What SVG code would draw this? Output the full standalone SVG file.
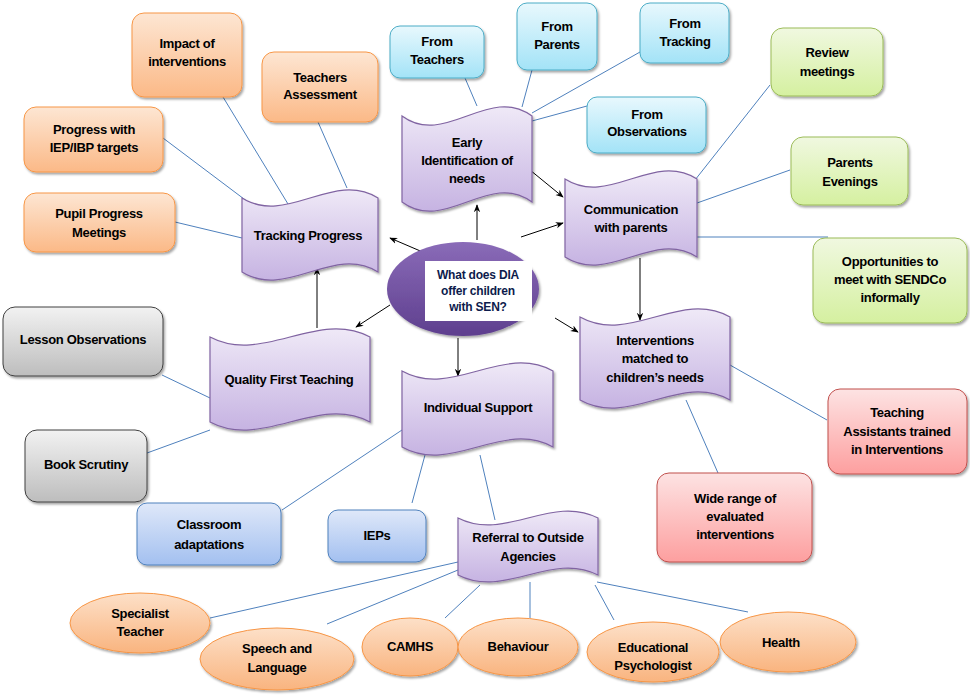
<svg xmlns="http://www.w3.org/2000/svg" width="970" height="695" viewBox="0 0 970 695">
<defs>
<linearGradient id="gOr" x1="0" y1="0" x2="0" y2="1"><stop offset="0" stop-color="#fde6d3"/><stop offset="1" stop-color="#fbb987"/></linearGradient>
<linearGradient id="gCy" x1="0" y1="0" x2="0" y2="1"><stop offset="0" stop-color="#e8f8fd"/><stop offset="1" stop-color="#a3e3f7"/></linearGradient>
<linearGradient id="gGr" x1="0" y1="0" x2="0" y2="1"><stop offset="0" stop-color="#f0f8e0"/><stop offset="1" stop-color="#d5f0a0"/></linearGradient>
<linearGradient id="gRd" x1="0" y1="0" x2="0" y2="1"><stop offset="0" stop-color="#fde3e3"/><stop offset="1" stop-color="#fd9f9f"/></linearGradient>
<linearGradient id="gGy" x1="0" y1="0" x2="0" y2="1"><stop offset="0" stop-color="#f2f2f2"/><stop offset="1" stop-color="#bdbdbd"/></linearGradient>
<linearGradient id="gBl" x1="0" y1="0" x2="0" y2="1"><stop offset="0" stop-color="#dfe8f9"/><stop offset="1" stop-color="#a3c0f0"/></linearGradient>
<linearGradient id="gPu" x1="0" y1="0" x2="0" y2="1"><stop offset="0" stop-color="#efe9f7"/><stop offset="1" stop-color="#c6b3e2"/></linearGradient>
<linearGradient id="gEl" x1="0" y1="0" x2="0" y2="1"><stop offset="0" stop-color="#fde0c8"/><stop offset="1" stop-color="#f9b47f"/></linearGradient>
<linearGradient id="gCe" x1="0" y1="0" x2="0" y2="1"><stop offset="0" stop-color="#8a6bb8"/><stop offset="1" stop-color="#5e3f8e"/></linearGradient>
<filter id="sh" x="-10%" y="-10%" width="125%" height="130%"><feDropShadow dx="1.5" dy="2" stdDeviation="1.2" flood-color="#000" flood-opacity="0.35"/></filter>
<marker id="ar" viewBox="0 0 10 10" refX="9" refY="5" markerWidth="8" markerHeight="8" orient="auto" markerUnits="userSpaceOnUse"><path d="M0,1 L10,5 L0,9 L3,5 Z" fill="#000"/></marker>
</defs>
<style>
text{font-family:"Liberation Sans",Arial,sans-serif;font-weight:bold;font-size:13px;fill:#000;text-anchor:middle;letter-spacing:-0.3px}
.or{fill:url(#gOr);stroke:#f79646;stroke-width:1;filter:url(#sh)}
.cy{fill:url(#gCy);stroke:#4bacc6;stroke-width:1;filter:url(#sh)}
.gr{fill:url(#gGr);stroke:#9bbb59;stroke-width:1;filter:url(#sh)}
.rd{fill:url(#gRd);stroke:#c0504d;stroke-width:1;filter:url(#sh)}
.gy{fill:url(#gGy);stroke:#404040;stroke-width:1;filter:url(#sh)}
.bl{fill:url(#gBl);stroke:#4f81bd;stroke-width:1;filter:url(#sh)}
.pu{fill:url(#gPu);stroke:#8064a2;stroke-width:1.2;filter:url(#sh)}
.el{fill:url(#gEl);stroke:#f79646;stroke-width:1;filter:url(#sh)}
.ln{stroke:#4f81bd;stroke-width:1;fill:none}
.ak{stroke:#000;stroke-width:1;fill:none;marker-end:url(#ar)}
.ct{fill:#0d1b4c;font-size:12px;letter-spacing:-0.2px}
</style>
<rect width="970" height="695" fill="#fff"/>

<g id="connectors">
<line class="ln" x1="223" y1="97" x2="288" y2="204"/>
<line class="ln" x1="318" y1="122" x2="347" y2="188"/>
<line class="ln" x1="163" y1="138" x2="248" y2="202"/>
<line class="ln" x1="175" y1="222" x2="242" y2="238"/>
<line class="ln" x1="465" y1="78" x2="477" y2="106"/>
<line class="ln" x1="532" y1="70" x2="522" y2="107"/>
<line class="ln" x1="640" y1="52" x2="532" y2="113"/>
<line class="ln" x1="587" y1="106" x2="532" y2="121"/>
<line class="ln" x1="770" y1="85" x2="695" y2="180"/>
<line class="ln" x1="790" y1="170" x2="697" y2="203"/>
<line class="ln" x1="697" y1="237" x2="828" y2="237"/>
<line class="ln" x1="730" y1="365" x2="827" y2="420"/>
<line class="ln" x1="686" y1="400" x2="718" y2="473"/>
<line class="ln" x1="162" y1="375" x2="210" y2="398"/>
<line class="ln" x1="147" y1="453" x2="210" y2="430"/>
<line class="ln" x1="282" y1="510" x2="402" y2="430"/>
<line class="ln" x1="412" y1="503" x2="425" y2="455"/>
<line class="ln" x1="480" y1="455" x2="495" y2="520"/>
<line class="ln" x1="210" y1="618" x2="458" y2="562"/>
<line class="ln" x1="327" y1="624" x2="458" y2="570"/>
<line class="ln" x1="445" y1="618" x2="480" y2="585"/>
<line class="ln" x1="530" y1="618" x2="530" y2="582"/>
<line class="ln" x1="614" y1="620" x2="595" y2="585"/>
<line class="ln" x1="597" y1="582" x2="748" y2="612"/>
<line class="ak" x1="477" y1="240" x2="477" y2="205"/>
<line class="ak" x1="425" y1="253" x2="390" y2="238"/>
<line class="ak" x1="521" y1="237" x2="563" y2="223"/>
<line class="ak" x1="530" y1="170" x2="563" y2="197"/>
<line class="ak" x1="640" y1="258" x2="640" y2="320"/>
<line class="ak" x1="555" y1="318" x2="578" y2="332"/>
<line class="ak" x1="458" y1="338" x2="458" y2="376"/>
<line class="ak" x1="390" y1="305" x2="356" y2="327"/>
<line class="ak" x1="317" y1="328" x2="317" y2="268"/>
</g>

<g id="centre">
<ellipse cx="463" cy="289" rx="76" ry="47" fill="url(#gCe)" filter="url(#sh)"/>
<rect x="425" y="261" width="107" height="60" fill="#fff"/>
<text class="ct" x="478" y="279">What does DIA</text>
<text class="ct" x="478" y="295">offer children</text>
<text class="ct" x="478" y="311">with SEN?</text>
</g>

<g id="tracking-progress">
<path class="pu" d="M242,198 C287,226 333,170 378,198 L378,272 C333,244 287,300 242,272 Z"/>
<text x="308" y="240">Tracking Progress</text>
</g>
<g id="early-identification">
<path class="pu" d="M402,116 C445,148 489,84 532,116 L532,202 C489,170 445,234 402,202 Z"/>
<text x="467" y="147">Early</text>
<text x="467" y="165">Identification of</text>
<text x="467" y="183">needs</text>
</g>
<g id="communication">
<path class="pu" d="M565,179 C609,207 653,151 697,179 L697,257 C653,229 609,285 565,257 Z"/>
<text x="631" y="214">Communication</text>
<text x="631" y="232">with parents</text>
</g>
<g id="interventions-matched">
<path class="pu" d="M580,317 C630,345 680,289 730,317 L730,400 C680,372 630,428 580,400 Z"/>
<text x="655" y="345">Interventions</text>
<text x="655" y="363">matched to</text>
<text x="655" y="382">children’s needs</text>
</g>
<g id="quality-first">
<path class="pu" d="M210,337 C263,365 317,309 370,337 L370,422 C317,394 263,450 210,422 Z"/>
<text x="289" y="384">Quality First Teaching</text>
</g>
<g id="individual-support">
<path class="pu" d="M402,371 C452,399 503,343 553,371 L553,447 C503,419 452,475 402,447 Z"/>
<text x="478" y="412">Individual Support</text>
</g>
<g id="referral">
<path class="pu" d="M458,518 C505,542 551,494 598,518 L598,575 C551,551 505,599 458,575 Z"/>
<text x="528" y="542">Referral to Outside</text>
<text x="528" y="561">Agencies</text>
</g>

<g id="impact"><rect class="or" x="132" y="13" width="110" height="84" rx="12"/><text x="187" y="48">Impact of</text><text x="187" y="66">interventions</text></g>
<g id="teachers-assessment"><rect class="or" x="262" y="52" width="116" height="70" rx="12"/><text x="320" y="82">Teachers</text><text x="320" y="99">Assessment</text></g>
<g id="progress-iep"><rect class="or" x="24" y="107" width="139" height="65" rx="12"/><text x="94" y="134">Progress with</text><text x="94" y="152">IEP/IBP targets</text></g>
<g id="pupil-progress"><rect class="or" x="24" y="193" width="151" height="59" rx="12"/><text x="99" y="218">Pupil Progress</text><text x="99" y="237">Meetings</text></g>

<g id="from-teachers"><rect class="cy" x="390" y="26" width="94" height="52" rx="10"/><text x="437" y="46">From</text><text x="437" y="64">Teachers</text></g>
<g id="from-parents"><rect class="cy" x="517" y="3" width="80" height="67" rx="10"/><text x="557" y="31">From</text><text x="557" y="49">Parents</text></g>
<g id="from-tracking"><rect class="cy" x="640" y="3" width="89" height="60" rx="10"/><text x="685" y="28">From</text><text x="685" y="46">Tracking</text></g>
<g id="from-observations"><rect class="cy" x="587" y="97" width="119" height="56" rx="10"/><text x="647" y="119">From</text><text x="647" y="136">Observations</text></g>

<g id="review-meetings"><rect class="gr" x="771" y="28" width="112" height="68" rx="12"/><text x="827" y="57">Review</text><text x="827" y="76">meetings</text></g>
<g id="parents-evenings"><rect class="gr" x="791" y="137" width="117" height="68" rx="12"/><text x="850" y="167">Parents</text><text x="850" y="186">Evenings</text></g>
<g id="opportunities"><rect class="gr" x="813" y="238" width="154" height="85" rx="12"/><text x="890" y="266">Opportunities to</text><text x="890" y="284">meet with SENDCo</text><text x="890" y="302">informally</text></g>

<g id="ta-trained"><rect class="rd" x="828" y="389" width="139" height="85" rx="12"/><text x="897" y="417">Teaching</text><text x="897" y="436">Assistants trained</text><text x="897" y="454">in Interventions</text></g>
<g id="wide-range"><rect class="rd" x="657" y="473" width="155" height="89" rx="12"/><text x="735" y="503">Wide range of</text><text x="735" y="521">evaluated</text><text x="735" y="539">interventions</text></g>

<g id="lesson-observations"><rect class="gy" x="3" y="307" width="160" height="69" rx="12"/><text x="83" y="344">Lesson Observations</text></g>
<g id="book-scrutiny"><rect class="gy" x="25" y="430" width="122" height="72" rx="12"/><text x="86" y="469">Book Scrutiny</text></g>

<g id="classroom-adaptations"><rect class="bl" x="137" y="503" width="144" height="62" rx="10"/><text x="209" y="529">Classroom</text><text x="209" y="549">adaptations</text></g>
<g id="ieps"><rect class="bl" x="328" y="510" width="98" height="52" rx="10"/><text x="377" y="540">IEPs</text></g>

<g id="specialist-teacher"><ellipse class="el" cx="140" cy="623" rx="70" ry="30"/><text x="140" y="618">Specialist</text><text x="140" y="636">Teacher</text></g>
<g id="speech-language"><ellipse class="el" cx="277" cy="659" rx="77" ry="31"/><text x="277" y="653">Speech and</text><text x="277" y="672">Language</text></g>
<g id="camhs"><ellipse class="el" cx="410" cy="647" rx="48" ry="29"/><text x="410" y="651">CAMHS</text></g>
<g id="behaviour"><ellipse class="el" cx="518" cy="647" rx="60" ry="29"/><text x="518" y="651">Behaviour</text></g>
<g id="educational-psychologist"><ellipse class="el" cx="653" cy="652" rx="66" ry="30"/><text x="653" y="652">Educational</text><text x="653" y="670">Psychologist</text></g>
<g id="health"><ellipse class="el" cx="788" cy="642" rx="68" ry="30"/><text x="781" y="647">Health</text></g>
</svg>
